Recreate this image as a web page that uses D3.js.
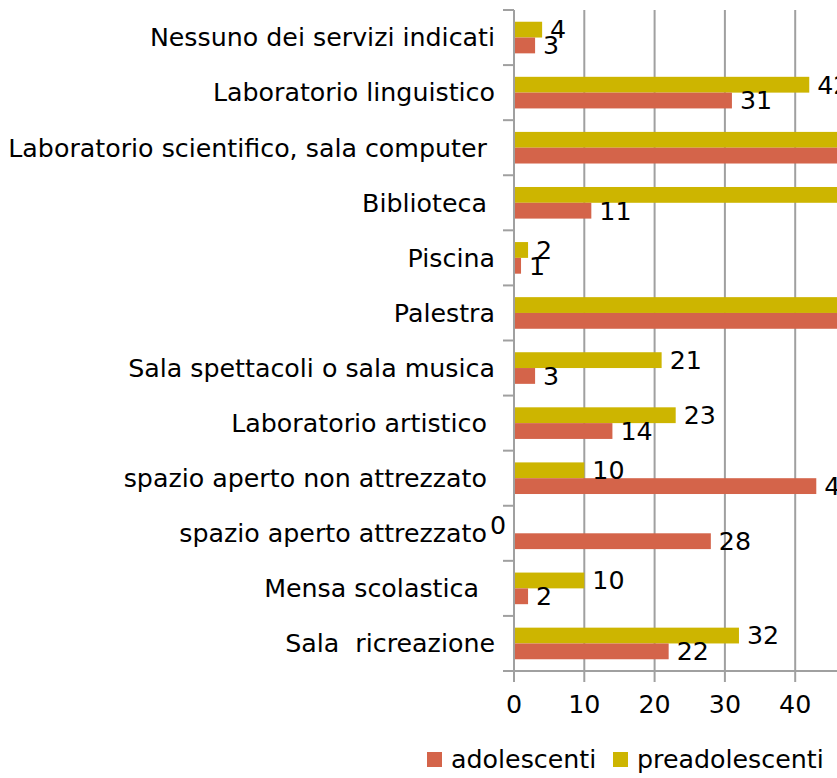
<!DOCTYPE html>
<html>
<head>
<meta charset="utf-8">
<script src="https://cdn.jsdelivr.net/npm/d3@7"></script>
<style>
  body { margin: 0; background: #fff; }
  svg { display: block; font-family: "DejaVu Sans", sans-serif; }
  text { white-space: pre; }
</style>
</head>
<body>
<div id="chart"></div>
<script>
// categories, top to bottom (trailing spaces are in the original labels)
var categories = [
    "Nessuno dei servizi indicati",
    "Laboratorio linguistico",
    "Laboratorio scientifico, sala computer ",
    "Biblioteca ",
    "Piscina",
    "Palestra",
    "Sala spettacoli o sala musica",
    "Laboratorio artistico ",
    "spazio aperto non attrezzato ",
    "spazio aperto attrezzato ",
    "Mensa scolastica  ",
    "Sala  ricreazione"
];

var series = ["preadolescenti", "adolescenti"];
var legendOrder = ["adolescenti", "preadolescenti"];

// values (bars running off the right edge are estimated)
var preadolescenti = [4, 42, 60, 52, 2, 70, 21, 23, 10, 0, 10, 32];
var adolescenti = [3, 31, 55, 11, 1, 65, 3, 14, 43, 28, 2, 22];

var xTicks = [0, 10, 20, 30, 40, 50, 60, 70];

var colors = {adolescenti: "#d4644a", preadolescenti: "#cdb500"};

var W = 837, H = 778;
var margin = {top: 10, left: 514, bottom: 107};
var fontSize = 25.3;

var svg = d3.select("#chart").append("svg")
    .attr("width", W)
    .attr("height", H);

// 7.03 px per unit
var x = d3.scaleLinear()
    .domain([0, 70])
    .range([margin.left, margin.left + 70 * 7.03]);

var y = d3.scaleBand()
    .domain(categories)
    .range([margin.top, H - margin.bottom])
    .paddingInner(0.426)
    .paddingOuter(0.213);

var ySub = d3.scaleBand()
    .domain(series)
    .range([0, y.bandwidth()]);

var rows = categories.map(function(c, i) {
    return {cat: c, adolescenti: adolescenti[i], preadolescenti: preadolescenti[i]};
});

var plotTop = margin.top, plotBottom = H - margin.bottom;
var step = y.step();

// vertical gridlines
svg.append("g").selectAll("line")
    .data(xTicks.slice(1))
    .enter().append("line")
    .attr("x1", function(d) { return x(d); })
    .attr("x2", function(d) { return x(d); })
    .attr("y1", plotTop)
    .attr("y2", plotBottom)
    .attr("stroke", "#a0a0a0")
    .attr("stroke-width", 2);

// bars
var groups = svg.append("g").selectAll("g")
    .data(rows)
    .enter().append("g")
    .attr("transform", function(d) { return "translate(0," + y(d.cat) + ")"; });

groups.selectAll("rect")
    .data(function(d) { return series.map(function(s) { return {key: s, value: d[s]}; }); })
    .enter().append("rect")
    .attr("x", x(0))
    .attr("y", function(d) { return ySub(d.key); })
    .attr("width", function(d) { return x(d.value) - x(0); })
    .attr("height", ySub.bandwidth())
    .attr("fill", function(d) { return colors[d.key]; });

// value labels
groups.selectAll("text")
    .data(function(d) { return series.map(function(s) { return {key: s, value: d[s]}; }); })
    .enter().append("text")
    .attr("x", function(d) {
        if (d.value === 0) { return x(0) - 8; }
        return x(d.value) + 8;
    })
    .attr("y", function(d) { return ySub(d.key) + ySub.bandwidth() / 2; })
    .attr("dy", "0.35em")
    .attr("text-anchor", function(d) { return d.value === 0 ? "end" : "start"; })
    .style("font-size", fontSize + "px")
    .attr("fill", "#000")
    .text(function(d) { return d.value; });

// y axis line + ticks at category boundaries
svg.append("line")
    .attr("x1", x(0)).attr("x2", x(0))
    .attr("y1", plotTop).attr("y2", plotBottom + 11)
    .attr("stroke", "#a0a0a0").attr("stroke-width", 2);

svg.append("g").selectAll("line")
    .data(d3.range(categories.length + 1))
    .enter().append("line")
    .attr("x1", x(0) - 11)
    .attr("x2", x(0))
    .attr("y1", function(i) { return plotTop + i * step; })
    .attr("y2", function(i) { return plotTop + i * step; })
    .attr("stroke", "#a0a0a0").attr("stroke-width", 2);

// category labels
svg.append("g").selectAll("text")
    .data(categories)
    .enter().append("text")
    .attr("x", x(0) - 19)
    .attr("y", function(d) { return y(d) + y.bandwidth() / 2; })
    .attr("dy", "0.35em")
    .attr("text-anchor", "end")
    .style("font-size", fontSize + "px")
    .attr("fill", "#000")
    .text(function(d) { return d; });

// x axis line + ticks
svg.append("line")
    .attr("x1", x(0) - 11).attr("x2", W)
    .attr("y1", plotBottom).attr("y2", plotBottom)
    .attr("stroke", "#a0a0a0").attr("stroke-width", 2);

svg.append("g").selectAll("line")
    .data(xTicks)
    .enter().append("line")
    .attr("x1", function(d) { return x(d); })
    .attr("x2", function(d) { return x(d); })
    .attr("y1", plotBottom)
    .attr("y2", plotBottom + 11)
    .attr("stroke", "#a0a0a0").attr("stroke-width", 2);

svg.append("g").selectAll("text")
    .data(xTicks)
    .enter().append("text")
    .attr("x", function(d) { return x(d); })
    .attr("y", 713)
    .attr("text-anchor", "middle")
    .style("font-size", fontSize + "px")
    .attr("fill", "#000")
    .text(function(d) { return d; });

// legend
var legendX = [427, 613];
var legend = svg.append("g").selectAll("g")
    .data(legendOrder)
    .enter().append("g")
    .attr("transform", function(d, i) { return "translate(" + legendX[i] + ",752)"; });

legend.append("rect")
    .attr("width", 15).attr("height", 15)
    .attr("fill", function(d) { return colors[d]; });

legend.append("text")
    .attr("x", 24)
    .attr("y", 16)
    .style("font-size", fontSize + "px")
    .attr("fill", "#000")
    .text(function(d) { return d; });
</script>
</body>
</html>
